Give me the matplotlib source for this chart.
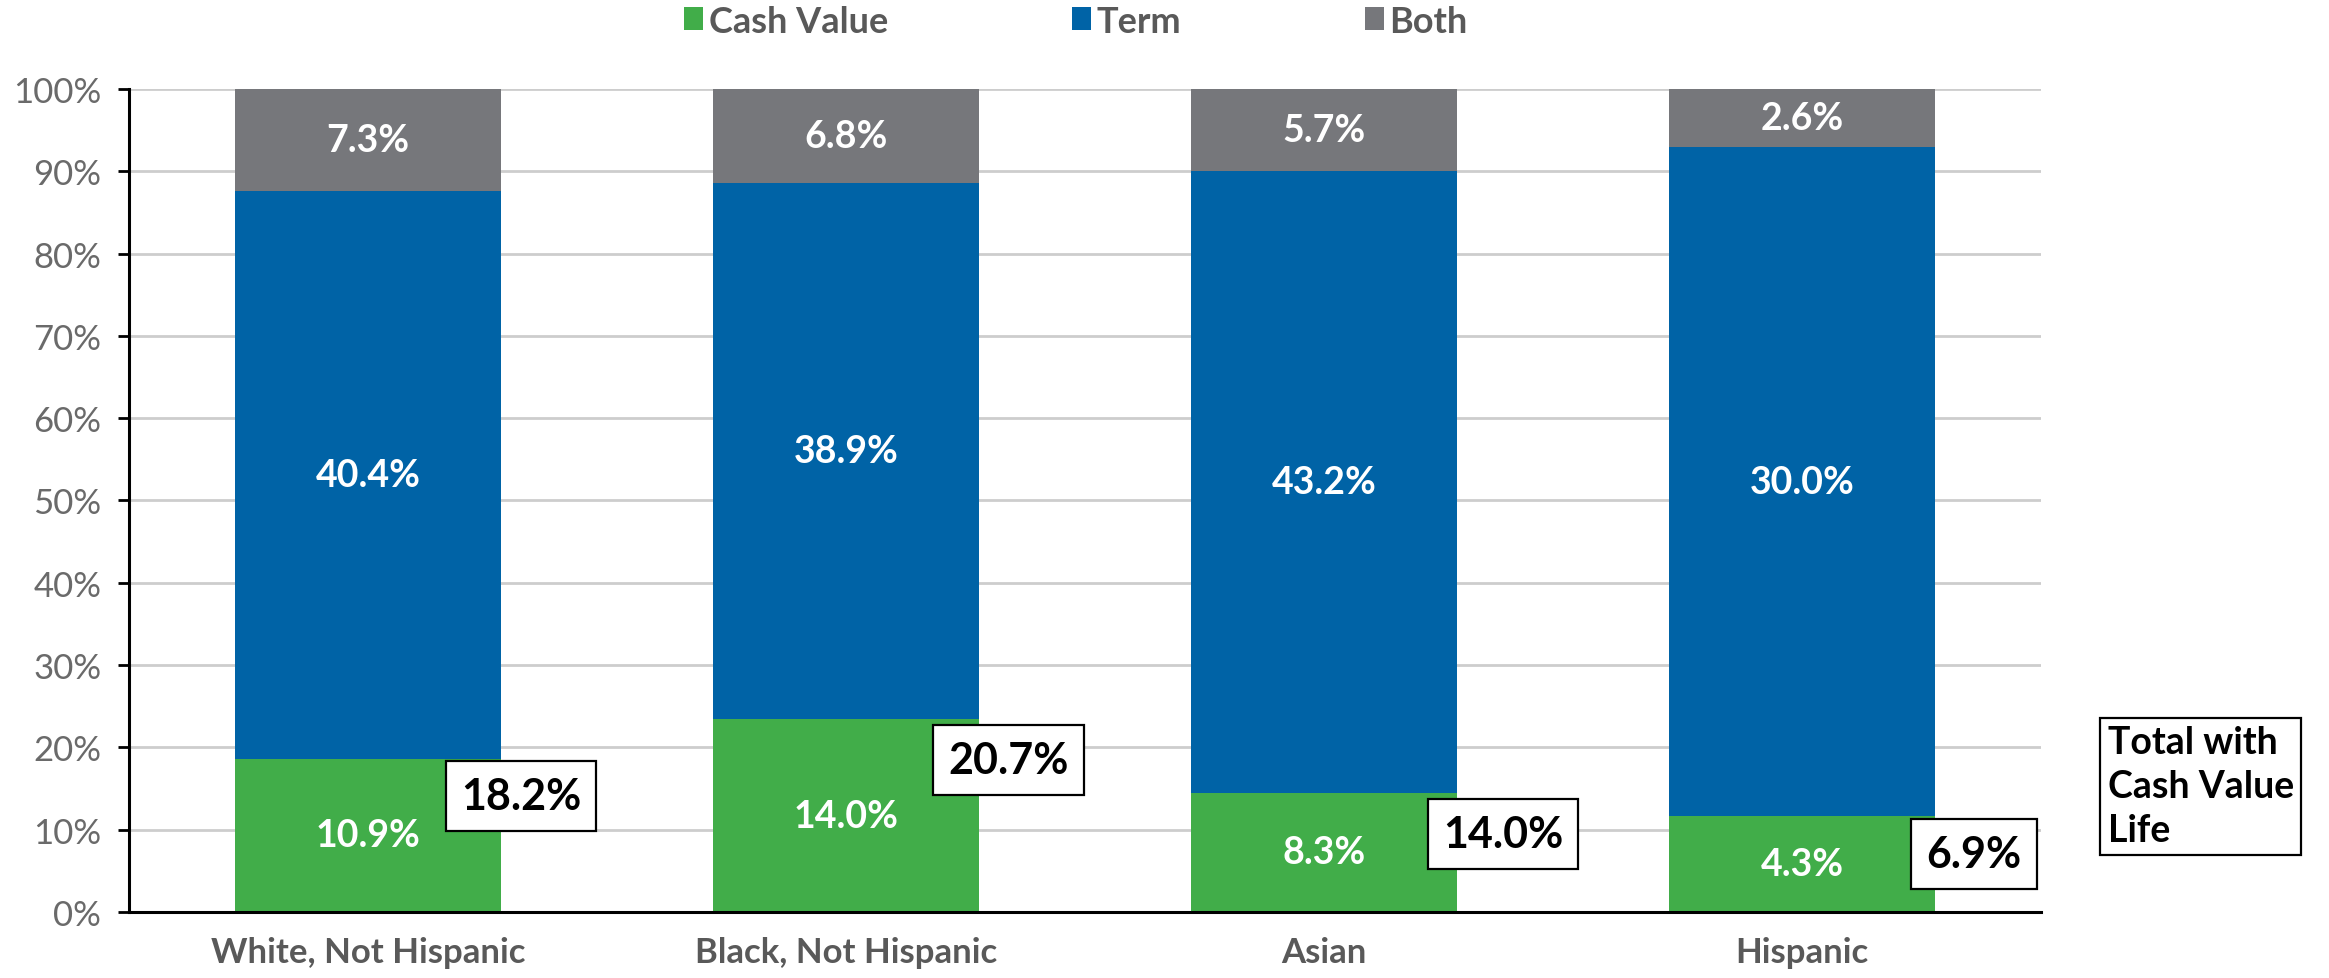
import matplotlib.pyplot as plt
import numpy as np

groups = ['White, Not Hispanic', 'Black, Not Hispanic', 'Asian', 'Hispanic']
cash_value = [10.9, 14.0, 8.3, 4.3]
term = [40.4, 38.9, 43.2, 30.0]
both = [7.3, 6.8, 5.7, 2.6]
total_cash_value_life = [18.2, 20.7, 14.0, 6.9]
yticks = [0, 10, 20, 30, 40, 50, 60, 70, 80, 90, 100]

# where the boxed totals sit (offset from bar centre, height in %)
box_xoff = [0.32, 0.34, 0.375, 0.36]
box_y = [14.1, 18.5, 9.5, 7.0]

GREEN = '#41ad49'
BLUE = '#0063a6'
GRAY = '#76777b'
TXT = '#595959'


def main():
	plt.rcParams['font.family'] = ['Lato', 'DejaVu Sans']
	fig = plt.figure(figsize=(23.29, 9.79), dpi=100)
	ax = fig.add_axes([0.0554, 0.0674, 0.8209, 0.8407])

	raw = np.array([cash_value, term, both])
	shares = raw / raw.sum(axis=0) * 100
	x = np.arange(len(groups))
	w = 0.556

	bottom = np.zeros(len(groups))
	bars = []
	for vals, pct, col in zip(raw, shares, [GREEN, BLUE, GRAY]):
		b = ax.bar(x, pct, w, bottom=bottom, color=col, zorder=3)
		bars.append(b)
		for xi, v, p, b0 in zip(x, vals, pct, bottom):
			ax.text(xi, b0 + p / 2, '%.1f%%' % v, ha='center', va='center',
					color='white', fontsize=27, fontweight='bold', zorder=5)
		bottom = bottom + pct

	for xi, t, dx, yy in zip(x, total_cash_value_life, box_xoff, box_y):
		ax.text(xi + dx, yy, '%.1f%%' % t, ha='center', va='center', color='black',
				fontsize=31, fontweight='bold', zorder=6,
				bbox=dict(boxstyle='square,pad=0.35', fc='white', ec='black', lw=1.6))

	ax.set_xlim(-0.5, 3.5)
	ax.set_ylim(0, 100)
	ax.set_yticks(yticks)
	ax.set_yticklabels(['%d%%' % t for t in yticks], color='#6a6a6a', fontsize=25)
	ax.set_xticks(x)
	ax.set_xticklabels(groups, color=TXT, fontsize=25, fontweight='bold')
	ax.tick_params(axis='x', length=0, pad=17)
	ax.tick_params(axis='y', length=8, width=2, pad=12)
	ax.yaxis.grid(True, color='#cdcdcd', lw=2, zorder=0)
	ax.set_axisbelow(True)
	for s in ['top', 'right']:
		ax.spines[s].set_visible(False)
	for s in ['left', 'bottom']:
		ax.spines[s].set_linewidth(2.2)
		ax.spines[s].set_zorder(4)

	fig.legend(bars, ['Cash Value', 'Term', 'Both'], loc='center', bbox_to_anchor=(0.462, 0.9775),
			   ncol=3, frameon=False, handlelength=0.52, handleheight=0.6,
			   handletextpad=0.15, columnspacing=5.1, labelcolor=TXT,
			   prop={'weight': 'bold', 'size': 26})

	fig.text(0.905, 0.258, 'Total with\nCash Value\nLife', ha='left', va='top', fontsize=27,
			 fontweight='bold', color='black', linespacing=1.35,
			 bbox=dict(boxstyle='square,pad=0.2', fc='white', ec='black', lw=1.6))

	fig.savefig('out.png', dpi=100)


if __name__ == '__main__':
	main()
